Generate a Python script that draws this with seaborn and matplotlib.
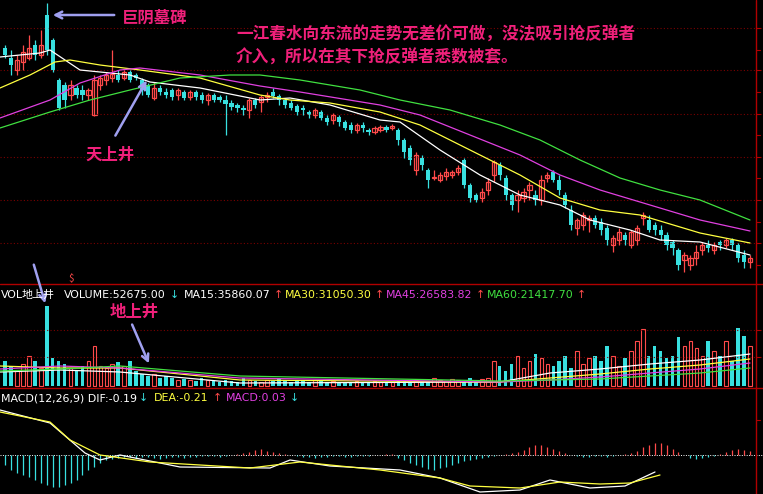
import numpy as np
import matplotlib
matplotlib.use("Agg")
import matplotlib.pyplot as plt
import seaborn as sns

sns.set_style("dark")
plt.rcParams['font.family'] = ['Noto Sans CJK SC', 'DejaVu Sans']

# candles (values = price units, 300 - pixel row)
open_y = [48,58,70,62,58,45,55,15,40,80,85,95,88,90,95,115,85,80,78,75,78,72,75,80,85,98,88,92,90,95,
          92,97,92,95,100,95,97,100,103,105,108,110,100,102,97,92,96,100,103,106,108,112,115,112,118,120,117,122,125,130,
          125,130,132,130,127,128,130,140,148,170,158,170,178,180,176,175,172,160,185,195,198,190,175,165,178,195,200,198,190,195,
          200,178,172,180,195,210,228,225,220,218,222,228,245,240,235,245,240,218,220,225,230,235,242,250,260,265,258,250,245,250,
          242,245,240,245,255,262]
close_y = [55,65,60,52,48,55,45,50,70,108,100,85,95,95,90,80,78,75,74,80,72,80,78,90,95,88,92,95,97,90,
           98,92,97,100,95,100,100,104,107,108,110,100,105,97,95,96,100,105,108,112,110,115,110,118,122,115,122,128,130,125,
           128,132,128,127,130,126,140,152,160,155,165,180,177,175,172,172,168,185,198,200,192,182,162,175,195,205,195,192,185,200,
           180,175,180,190,205,225,220,215,218,225,230,240,238,232,240,232,228,215,230,230,235,245,248,265,255,258,252,245,248,245,
           245,240,245,258,262,258]
high_y = [45,50,55,45,35,40,30,3,38,78,82,80,85,85,88,75,75,72,50,70,70,70,73,78,83,82,85,88,88,88,
          90,90,90,92,93,93,95,95,100,103,105,98,98,95,92,88,94,98,100,104,105,110,108,110,115,113,115,120,122,123,
          122,128,126,125,125,124,128,138,145,152,155,168,170,172,168,170,165,158,183,193,188,178,160,162,175,193,190,188,182,190,
          175,172,170,175,192,205,218,212,215,215,218,225,235,228,232,230,225,212,215,222,225,232,240,248,252,255,245,242,240,242,
          240,238,238,243,250,255]
low_y = [58,75,75,70,60,60,58,55,72,110,108,100,98,100,100,116,90,85,82,82,80,82,80,95,97,100,95,98,100,100,
         100,100,100,103,105,102,102,135,110,112,115,118,108,112,102,98,105,108,110,115,115,118,118,120,125,124,126,130,133,133,
         132,135,134,132,132,130,145,158,165,175,170,188,180,182,180,178,175,188,202,202,202,195,182,180,200,210,212,202,200,205,
         205,182,182,195,208,230,235,230,232,228,235,245,252,245,245,248,245,225,232,235,240,250,255,270,272,270,265,255,252,254,
         250,248,250,262,268,268]

# moving average lines on price panel (pixel x, price units)
ma_white_x = [0,40,50,80,130,150,200,260,290,330,380,400,440,480,520,560,590,630,660,700,750]
ma_white_y = [57,53,50,70,75,82,88,100,98,105,120,122,150,175,195,205,220,230,240,242,255]
ma_yellow_x = [0,30,55,70,100,140,200,260,290,330,380,420,470,520,560,600,640,700,750]
ma_yellow_y = [88,75,62,60,65,70,78,95,100,103,112,125,150,175,198,210,215,233,243]
ma_mag_x = [0,50,80,120,140,200,260,300,380,420,470,520,560,600,650,700,750]
ma_mag_y = [118,100,83,70,68,75,86,92,105,115,135,155,175,190,205,220,231]
ma_green_x = [0,50,90,130,180,230,260,300,360,400,450,500,540,580,620,660,700,750]
ma_green_y = [128,112,100,90,78,75,75,80,90,100,110,125,140,160,178,190,200,220]

# volume (bar heights)
volume = [25,20,15,22,30,25,18,80,28,25,22,18,15,20,25,40,20,18,22,24,20,25,15,12,10,12,8,10,8,6,
          7,6,5,8,6,5,4,6,5,4,8,6,5,4,6,5,7,5,4,6,5,4,6,5,4,5,4,3,4,5,
          4,3,5,4,3,4,6,5,4,6,5,4,8,6,5,7,6,5,8,6,7,8,25,20,15,22,30,18,25,32,
          28,22,20,25,30,18,35,22,28,30,25,40,30,20,28,35,45,57,30,40,35,28,30,49,40,45,38,30,45,35,
          30,45,25,58,50,40]
vol_ma_white_x = [0,60,120,240,500,550,600,650,700,750]
vol_ma_white_y = [14,16,14,3,4,13,17,22,26,32]
vol_ma_yellow_x = [0,60,120,240,500,550,600,650,700,750]
vol_ma_yellow_y = [20,18,18,6,4,8,12,17,21,27]
vol_ma_mag_x = [0,60,120,240,500,550,600,650,700,750]
vol_ma_mag_y = [17,20,18,8,4,6,9,13,17,23]
vol_ma_green_x = [0,60,120,240,500,550,600,650,700,750]
vol_ma_green_y = [15,17,20,10,5,6,7,10,13,18]

# MACD
macd_hist = [-10,-15,-18,-20,-22,-25,-28,-30,-32,-32,-30,-28,-25,-20,-15,-12,-8,-5,
             -4,-3,-2,-2,-3,-2,-2,-3,-4,-3,-2,-2,-3,-2,-2,-1,-1,-1,
             -2,-1,0,1,2,3,5,6,4,3,2,1,0,-1,-2,
             -2,-3,-2,-2,-1,-1,-2,-2,-1,-1,-1,0,0,1,1,
             -3,-5,-8,-10,-12,-14,-15,-13,-12,-10,-8,-6,-5,-4,-3,-2,-1,0,1,
             2,3,5,8,10,10,8,6,4,2,0,-1,-2,-2,-1,
             -1,-2,-1,0,1,2,4,8,10,12,12,10,6,
             3,0,-3,-4,-3,-2,-1,1,3,5,6,5,4]
dif_x = [0,50,85,100,120,180,270,290,330,400,440,480,520,550,590,625,655]
dif_y = [410,423,453,460,455,467,468,460,466,470,478,492,490,480,488,486,472]
dea_x = [0,50,70,100,150,250,300,380,440,470,520,560,600,630,660]
dea_y = [412,422,440,455,462,468,462,470,478,486,488,482,484,483,475]

W, H = 763, 494
fig = plt.figure(figsize=(W/100, H/100), dpi=100, facecolor='black')
n = len(open_y)
xs = 5 + 5.96*np.arange(n)
UP, DN = '#ff4a4a', '#38e0e0'
GRID = '#7a0000'

def mkax(top, bot, ylim):
    ax = fig.add_axes([0, 1-bot/H, 1, (bot-top)/H])
    ax.set_facecolor('black')
    ax.set_xlim(0, W); ax.set_ylim(*ylim)
    ax.set_xticks([]); ax.set_yticks([])
    for s in ax.spines.values(): s.set_visible(False)
    return ax

# price panel
axp = mkax(0, 283, (300-283, 300))
for gy in [28, 70, 114, 157, 200, 243]:
    axp.axhline(300-gy, color=GRID, ls=(0, (1, 2)), lw=0.8)
o = 300-np.array(open_y); c = 300-np.array(close_y)
hi = 300-np.array(high_y); lo = 300-np.array(low_y)
for i in range(n):
    col = UP if c[i] > o[i] else DN
    if c[i] == o[i]: col = 'white'
    axp.vlines(xs[i], lo[i], hi[i], color=col, lw=0.9)
    b0, b1 = min(o[i], c[i]), max(o[i], c[i])
    if col == DN:
        axp.bar(xs[i], max(b1-b0, 1), bottom=b0, width=4.2, color=DN, lw=0)
    else:
        axp.bar(xs[i], max(b1-b0, 1), bottom=b0, width=4.2, facecolor='black', edgecolor=col, lw=0.9)
for mx, my, col in [(ma_white_x, ma_white_y, 'white'), (ma_yellow_x, ma_yellow_y, '#ffff40'),
                    (ma_mag_x, ma_mag_y, '#e040e0'), (ma_green_x, ma_green_y, '#40e040')]:
    sns.lineplot(x=mx, y=300-np.array(my), color=col, lw=0.9, ax=axp)

# volume panel
axv = mkax(283, 388, (-2, 103))
for gy in [330, 357]:
    axv.axhline(386-gy, color=GRID, ls=(0, (1, 2)), lw=0.8)
vcol = [UP if c[i] > o[i] else DN for i in range(n)]
for i in range(n):
    if vcol[i] == DN:
        axv.bar(xs[i], volume[i], width=3.6, color=DN, lw=0)
    else:
        axv.bar(xs[i], volume[i], width=3.6, facecolor='black', edgecolor=UP, lw=0.8)
for mx, my, col in [(vol_ma_white_x, vol_ma_white_y, 'white'), (vol_ma_yellow_x, vol_ma_yellow_y, '#ffff40'),
                    (vol_ma_mag_x, vol_ma_mag_y, '#e040e0'), (vol_ma_green_x, vol_ma_green_y, '#40e040')]:
    sns.lineplot(x=mx, y=my, color=col, lw=0.9, ax=axv)

# MACD panel
axm = mkax(388, 494, (455-494, 455-388))
axm.axhline(0, color='white', ls=(0, (1, 1.5)), lw=0.7)
for i in range(n):
    axm.vlines(xs[i], 0, macd_hist[i], color=UP if macd_hist[i] > 0 else DN, lw=0.9)
sns.lineplot(x=dif_x, y=455-np.array(dif_y), color='white', lw=0.9, ax=axm)
sns.lineplot(x=dea_x, y=455-np.array(dea_y), color='#ffff40', lw=0.9, ax=axm)
for a in (axp, axv, axm):
    if a.get_legend(): a.get_legend().remove()

# overlay for frame and text
ov = fig.add_axes([0, 0, 1, 1]); ov.set_xlim(0, W); ov.set_ylim(H, 0); ov.axis('off')
ov.patch.set_alpha(0)
ov.plot([756, 756], [0, H], color='#b00000', lw=1)
ov.plot([0, 763], [284, 284], color='#b00000', lw=1)
ov.plot([0, 763], [388, 388], color='#b00000', lw=1)
for ty in [28, 50, 70, 92, 114, 135, 157, 178, 200, 222, 243, 265, 330, 357, 420]:
    ov.plot([756, 760], [ty, ty], color='#b00000', lw=0.8)

PINK = '#f0207a'; ARW = '#a0a0f0'
cjk = dict(family=['Noto Sans CJK SC', 'DejaVu Sans'], fontweight='bold', color=PINK)
ov.text(122, 18, '巨阴墓碑', fontsize=11.8, va='center', **cjk)
ov.text(236, 35, '一江春水向东流的走势无差价可做，没法吸引抢反弹者', fontsize=12, va='center', **cjk)
ov.text(236, 58, '介入，所以在其下抢反弹者悉数被套。', fontsize=12, va='center', **cjk)
ov.text(85, 155, '天上井', fontsize=11.8, va='center', **cjk)
ov.text(110, 312, '地上井', fontsize=11.8, va='center', **cjk)
ov.text(68, 279, '$', fontsize=7, color=UP, va='center')
ap = dict(arrowstyle='->', color=ARW, lw=1.8, mutation_scale=12)
ov.annotate('', xy=(50, 15), xytext=(117, 15), arrowprops=ap)
ov.annotate('', xy=(148, 78), xytext=(114, 138), arrowprops=ap)
ov.annotate('', xy=(150, 366), xytext=(131, 322), arrowprops=ap)
ov.annotate('', xy=(46, 306), xytext=(33, 262), arrowprops=ap)

hdr = dict(fontsize=7.9, va='center', family=['DejaVu Sans'])
ov.text(1, 295, 'VOL', color='white', **hdr)
ov.text(22, 295, '地上井', color='white', fontsize=7.9, va='center', family=['Noto Sans CJK SC'])
ov.text(64, 295, 'VOLUME:52675.00', color='white', **hdr)
ov.text(170, 295, '↓', color=DN, **hdr)
ov.text(184, 295, 'MA15:35860.07', color='white', **hdr)
ov.text(274, 295, '↑', color=UP, **hdr)
ov.text(285, 295, 'MA30:31050.30', color='#ffff40', **hdr)
ov.text(375, 295, '↑', color=UP, **hdr)
ov.text(386, 295, 'MA45:26583.82', color='#e040e0', **hdr)
ov.text(476, 295, '↑', color=UP, **hdr)
ov.text(487, 295, 'MA60:21417.70', color='#40e040', **hdr)
ov.text(577, 295, '↑', color=UP, **hdr)
ov.text(1, 398, 'MACD(12,26,9) DIF:-0.19', color='white', **hdr)
ov.text(139, 398, '↓', color=DN, **hdr)
ov.text(154, 398, 'DEA:-0.21', color='#ffff40', **hdr)
ov.text(213, 398, '↑', color=UP, **hdr)
ov.text(226, 398, 'MACD:0.03', color='#e040e0', **hdr)
ov.text(290, 398, '↓', color=DN, **hdr)

fig.savefig('out.png', dpi=100, facecolor='black')
